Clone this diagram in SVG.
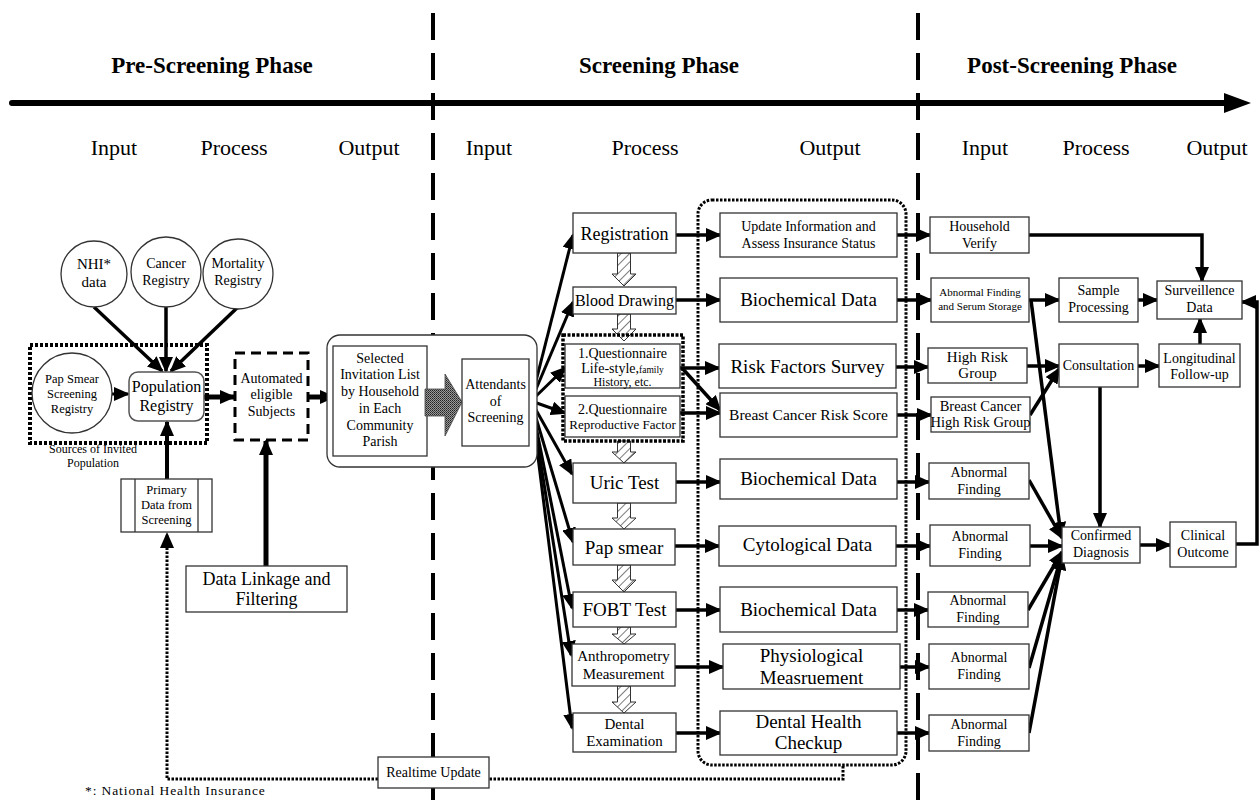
<svg xmlns="http://www.w3.org/2000/svg" width="1259" height="804" viewBox="0 0 1259 804">
<style>
text{font-family:"Liberation Serif","Times New Roman",serif;fill:#000;text-anchor:middle}
.hd{font-size:23px;font-weight:bold}
.col{font-size:22px}
.b{fill:#fff;stroke:#333;stroke-width:1.3}
.c{fill:none;stroke:#000;stroke-width:3.5;marker-end:url(#ah)}
.ct{fill:none;stroke:#000;stroke-width:5;marker-end:url(#ah)}
.dot{fill:none;stroke:#000;stroke-width:3;stroke-dasharray:2.5 1.5}
.phase{stroke:#000;stroke-width:4;stroke-dasharray:27 13}
.hatch{fill:url(#hp);stroke:#333;stroke-width:1}
</style>
<defs>
<marker id="ah" markerWidth="16" markerHeight="14" refX="14" refY="7" orient="auto" markerUnits="userSpaceOnUse"><path d="M0,0 L16,7 L0,14 z" fill="#000"/></marker>
<pattern id="hp" width="6" height="6" patternUnits="userSpaceOnUse" patternTransform="rotate(45)"><rect width="6" height="6" fill="#fff"/><line x1="0" y1="0" x2="0" y2="6" stroke="#222" stroke-width="1.2"/></pattern>
<pattern id="sp" width="2" height="2" patternUnits="userSpaceOnUse"><rect width="2" height="2" fill="#999"/><rect width="1" height="1" fill="#222"/><rect x="1" y="1" width="1" height="1" fill="#444"/></pattern>
</defs>
<rect width="1259" height="804" fill="#fff"/>

<g id="phase-lines">
<line class="phase" x1="433" y1="13" x2="433" y2="804"/>
<line class="phase" x1="918" y1="13" x2="918" y2="804"/>
</g>

<g id="header">
<line x1="12" y1="103" x2="1228" y2="103" stroke="#000" stroke-width="6" stroke-linecap="round"/>
<polygon points="1224,93 1251,103 1224,113" fill="#000"/>
<text class="hd" x="212" y="73">Pre-Screening Phase</text>
<text class="hd" x="659" y="73">Screening Phase</text>
<text class="hd" x="1072" y="73">Post-Screening Phase</text>
<text class="col" x="114" y="155">Input</text>
<text class="col" x="234" y="155">Process</text>
<text class="col" x="369" y="155">Output</text>
<text class="col" x="489" y="155">Input</text>
<text class="col" x="645" y="155">Process</text>
<text class="col" x="830" y="155">Output</text>
<text class="col" x="985" y="155">Input</text>
<text class="col" x="1096" y="155">Process</text>
<text class="col" x="1217" y="155">Output</text>
</g>

<g id="connectors">
<line class="c" x1="94" y1="307" x2="162" y2="371"/>
<line class="c" x1="166" y1="307" x2="166" y2="371"/>
<line class="c" x1="238" y1="307" x2="171" y2="371"/>
<line class="c" x1="112" y1="394" x2="128" y2="394" style="stroke-width:3"/>
<line class="ct" x1="204" y1="397" x2="234" y2="397"/>
<line class="ct" x1="308" y1="397" x2="334" y2="397"/>
<line class="c" x1="167" y1="479" x2="167" y2="422" style="stroke-width:4"/>
<line class="ct" x1="266" y1="566" x2="266" y2="441"/>
<path class="dot" d="M843,766 V779 H489"/>
<path class="dot" d="M378,779 H167 V534" style="marker-end:url(#ah)"/>
<line class="c" x1="531" y1="401" x2="573" y2="235" style="stroke-width:3"/>
<line class="c" x1="531" y1="401" x2="573" y2="302" style="stroke-width:3"/>
<line class="c" x1="531" y1="401" x2="565" y2="368" style="stroke-width:3"/>
<line class="c" x1="531" y1="401" x2="565" y2="413" style="stroke-width:3"/>
<line class="c" x1="531" y1="401" x2="572" y2="474" style="stroke-width:3"/>
<line class="c" x1="531" y1="401" x2="573" y2="542" style="stroke-width:3"/>
<line class="c" x1="531" y1="401" x2="572" y2="608" style="stroke-width:3"/>
<line class="c" x1="531" y1="401" x2="571" y2="655" style="stroke-width:3"/>
<line class="c" x1="531" y1="401" x2="572" y2="728" style="stroke-width:3"/>
<line class="c" x1="676" y1="235" x2="720" y2="235"/>
<line class="c" x1="676" y1="300" x2="720" y2="300"/>
<line class="c" x1="680" y1="368" x2="719" y2="368"/>
<line class="c" x1="682" y1="368" x2="720" y2="410"/>
<line class="c" x1="680" y1="413" x2="720" y2="413"/>
<line class="c" x1="676" y1="482" x2="720" y2="482"/>
<line class="c" x1="675" y1="546" x2="719" y2="546"/>
<line class="c" x1="676" y1="610" x2="720" y2="610"/>
<line class="c" x1="675" y1="667" x2="723" y2="667"/>
<line class="c" x1="676" y1="733" x2="720" y2="733"/>
<line class="c" x1="897" y1="235" x2="930" y2="235"/>
<line class="c" x1="897" y1="300" x2="931" y2="300"/>
<line class="c" x1="896" y1="367" x2="928" y2="367"/>
<line class="c" x1="897" y1="415" x2="931" y2="415"/>
<line class="c" x1="897" y1="482" x2="929" y2="482"/>
<line class="c" x1="896" y1="546" x2="930" y2="546"/>
<line class="c" x1="897" y1="610" x2="928" y2="610"/>
<line class="c" x1="900" y1="667" x2="929" y2="667"/>
<line class="c" x1="897" y1="733" x2="929" y2="733"/>
<path class="c" d="M1029,235 H1202 V281"/>
<line class="c" x1="1029" y1="300" x2="1059" y2="300"/>
<line class="c" x1="1138" y1="300" x2="1157" y2="300"/>
<line class="c" x1="1027" y1="366" x2="1059" y2="366"/>
<line class="c" x1="1030" y1="415" x2="1059" y2="369"/>
<line class="c" x1="1138" y1="366" x2="1159" y2="366"/>
<line class="c" x1="1200" y1="344" x2="1200" y2="319"/>
<line class="c" x1="1100" y1="387" x2="1100" y2="527"/>
<line class="c" x1="1031" y1="300" x2="1061" y2="536"/>
<line class="c" x1="1029" y1="480" x2="1062" y2="538"/>
<line class="c" x1="1030" y1="546" x2="1062" y2="546"/>
<line class="c" x1="1028" y1="610" x2="1062" y2="552"/>
<line class="c" x1="1029" y1="668" x2="1062" y2="554"/>
<line class="c" x1="1029" y1="733" x2="1062" y2="556"/>
<line class="c" x1="1140" y1="545" x2="1170" y2="545"/>
<path class="c" d="M1236,544 H1257 V302 H1242"/>
</g>

<g id="registries">
<g id="n-nhi"><circle class="b" cx="94" cy="274" r="33"/><text x="94" y="269" style="font-size:15px">NHI*</text><text x="94" y="287" style="font-size:15px">data</text></g>
<g id="n-cancer"><circle class="b" cx="166" cy="272" r="35"/><text x="166" y="268" style="font-size:14px">Cancer</text><text x="166" y="285" style="font-size:14px">Registry</text></g>
<g id="n-mortality"><circle class="b" cx="238" cy="274" r="35"/><text x="238" y="268" style="font-size:14px">Mortality</text><text x="238" y="285" style="font-size:14px">Registry</text></g>
</g>

<g id="n-sources">
<rect x="30" y="345" width="177" height="98" fill="none" stroke="#000" stroke-width="4" stroke-dasharray="3 2"/>
<text x="93" y="453" style="font-size:12px">Sources of Invited</text>
<text x="93" y="467" style="font-size:12px">Population</text>
</g>
<g id="n-papreg"><circle class="b" cx="72" cy="393" r="40"/>
<text x="72" y="383" style="font-size:12.5px">Pap Smear</text><text x="72" y="398" style="font-size:12.5px">Screening</text><text x="72" y="413" style="font-size:12.5px">Registry</text></g>
<g id="n-popreg"><rect class="b" x="129" y="372" width="75" height="49" rx="9" style="stroke:#555;stroke-width:1.5"/>
<text x="166.5" y="392" style="font-size:16px">Population</text><text x="166.5" y="411" style="font-size:16px">Registry</text></g>
<g id="n-auto"><rect x="235" y="353" width="73" height="87" fill="#fff" stroke="#000" stroke-width="3" stroke-dasharray="10 6"/>
<text x="271.5" y="383" style="font-size:14px">Automated</text><text x="271.5" y="399" style="font-size:14px">eligible</text><text x="271.5" y="416" style="font-size:14px">Subjects</text></g>
<g id="n-primary"><rect class="b" x="121" y="479" width="91" height="53"/>
<line x1="135" y1="479" x2="135" y2="532" stroke="#333" stroke-width="1.3"/><line x1="198" y1="479" x2="198" y2="532" stroke="#333" stroke-width="1.3"/>
<text x="166.5" y="494" style="font-size:12.5px">Primary</text><text x="166.5" y="509" style="font-size:12.5px">Data from</text><text x="166.5" y="524" style="font-size:12.5px">Screening</text></g>
<g id="n-linkage"><rect class="b" x="186" y="566" width="161" height="46"/>
<text x="266.5" y="585" style="font-size:18px">Data Linkage and</text><text x="266.5" y="605" style="font-size:18px">Filtering</text></g>

<g id="n-invite">
<rect class="b" x="327" y="335" width="210" height="132" rx="13"/>
<rect class="b" x="333" y="346" width="94" height="110"/>
<text x="380" y="363" style="font-size:14px">Selected</text>
<text x="380" y="379" style="font-size:14px">Invitation List</text>
<text x="380" y="396" style="font-size:14px">by Household</text>
<text x="380" y="413" style="font-size:14px">in Each</text>
<text x="380" y="430" style="font-size:14px">Community</text>
<text x="380" y="446" style="font-size:14px">Parish</text>
<path d="M425,389 H445 V374 L462,402 L445,436 V416 H425 Z" fill="url(#sp)" stroke="#444" stroke-width="0.8"/>
<rect class="b" x="462" y="359" width="67" height="87"/>
<text x="495.5" y="389" style="font-size:14px">Attendants</text>
<text x="495.5" y="406" style="font-size:14px">of</text>
<text x="495.5" y="422" style="font-size:14px">Screening</text>
</g>

<g id="hatched-arrows">
<path class="hatch" d="M617.5,253 H630.5 V274 H636 L624,286 L612,274 H617.5 Z"/>
<path class="hatch" d="M617.5,314 H630.5 V329 H636 L624,341 L612,329 H617.5 Z"/>
<path class="hatch" d="M617.5,441 H630.5 V452 H636 L624,463 L612,452 H617.5 Z"/>
<path class="hatch" d="M617.5,503 H630.5 V518 H636 L624,529 L612,518 H617.5 Z"/>
<path class="hatch" d="M617.5,565 H630.5 V580 H636 L624,592 L612,580 H617.5 Z"/>
<path class="hatch" d="M617.5,627 H630.5 V634 H636 L624,644 L612,634 H617.5 Z"/>
<path class="hatch" d="M617.5,686 H630.5 V702 H636 L624,713 L612,702 H617.5 Z"/>
</g>

<g id="n-container"><rect x="698" y="200" width="208" height="565" rx="14" class="dot"/></g>
<g id="n-qgroup"><rect x="563" y="335" width="120" height="106" fill="none" stroke="#000" stroke-width="3.5" stroke-dasharray="3 1.5"/></g>

<g id="n-registration"><rect class="b" x="573" y="213" width="103" height="40"/><text x="624.5" y="240" style="font-size:18px">Registration</text></g>
<g id="n-blood"><rect class="b" x="573" y="287" width="103" height="27"/><text x="624.5" y="306" style="font-size:16px">Blood Drawing</text></g>
<g id="n-q1"><rect class="b" x="565" y="344" width="115" height="44"/>
<text x="622.5" y="358" style="font-size:14px">1.Questionnaire</text>
<text x="622.5" y="373" style="font-size:14px">Life-style,<tspan style="font-size:9.5px">family</tspan></text>
<text x="622.5" y="386" style="font-size:12px">History, etc.</text></g>
<g id="n-q2"><rect class="b" x="565" y="396" width="115" height="41"/>
<text x="622.5" y="414" style="font-size:14px">2.Questionnaire</text>
<text x="622.5" y="429" style="font-size:13px">Reproductive Factor</text></g>
<g id="n-uric"><rect class="b" x="573" y="463" width="103" height="40"/><text x="624.5" y="489" style="font-size:19px">Uric Test</text></g>
<g id="n-pap"><rect class="b" x="573" y="529" width="102" height="36"/><text x="624" y="554" style="font-size:19px">Pap smear</text></g>
<g id="n-fobt"><rect class="b" x="573" y="592" width="103" height="35"/><text x="624.5" y="616" style="font-size:19px">FOBT Test</text></g>
<g id="n-anthro"><rect class="b" x="572" y="644" width="103" height="42"/><text x="623.5" y="661" style="font-size:15px">Anthropometry</text><text x="623.5" y="679" style="font-size:15px">Measurement</text></g>
<g id="n-dental"><rect class="b" x="573" y="713" width="103" height="39"/><text x="624.5" y="729" style="font-size:15px">Dental</text><text x="624.5" y="746" style="font-size:15px">Examination</text></g>

<g id="n-update"><rect class="b" x="720" y="213" width="177" height="44"/><text x="808.5" y="231" style="font-size:14px">Update Information and</text><text x="808.5" y="248" style="font-size:14px">Assess Insurance Status</text></g>
<g id="n-bio1"><rect class="b" x="720" y="278" width="177" height="44"/><text x="808.5" y="306" style="font-size:19px">Biochemical Data</text></g>
<g id="n-risk"><rect class="b" x="719" y="344" width="177" height="44"/><text x="807.5" y="373" style="font-size:19px">Risk Factors Survey</text></g>
<g id="n-bcrisk"><rect class="b" x="720" y="393" width="177" height="44"/><text x="808.5" y="420" style="font-size:15.5px">Breast Cancer Risk Score</text></g>
<g id="n-bio2"><rect class="b" x="720" y="459" width="177" height="40"/><text x="808.5" y="485" style="font-size:19px">Biochemical Data</text></g>
<g id="n-cyto"><rect class="b" x="719" y="526" width="177" height="40"/><text x="807.5" y="551" style="font-size:19px">Cytological Data</text></g>
<g id="n-bio3"><rect class="b" x="720" y="587" width="177" height="45"/><text x="808.5" y="616" style="font-size:19px">Biochemical Data</text></g>
<g id="n-physio"><rect class="b" x="723" y="644" width="177" height="45"/><text x="811.5" y="662" style="font-size:19px">Physiological</text><text x="811.5" y="684" style="font-size:19px">Measruement</text></g>
<g id="n-dentalh"><rect class="b" x="720" y="711" width="177" height="44"/><text x="808.5" y="728" style="font-size:19px">Dental Health</text><text x="808.5" y="749" style="font-size:19px">Checkup</text></g>

<g id="n-realtime"><rect class="b" x="378" y="757" width="111" height="31"/><text x="433.5" y="777" style="font-size:14px">Realtime Update</text></g>
<g id="note"><text x="85" y="795" style="font-size:13.5px;letter-spacing:0.9px;text-anchor:start">*: National Health Insurance</text></g>

<g id="n-household"><rect class="b" x="930" y="217" width="99" height="36"/><text x="979.5" y="231" style="font-size:14px">Household</text><text x="979.5" y="248" style="font-size:14px">Verify</text></g>
<g id="n-abnserum"><rect class="b" x="931" y="278" width="98" height="44"/><text x="980" y="296" style="font-size:11px">Abnormal Finding</text><text x="980" y="310" style="font-size:11px">and Serum Storage</text></g>
<g id="n-highrisk"><rect class="b" x="928" y="348" width="99" height="35"/><text x="977.5" y="362" style="font-size:15px">High Risk</text><text x="977.5" y="378" style="font-size:15px">Group</text></g>
<g id="n-bchrg"><rect class="b" x="931" y="397" width="99" height="35"/><text x="980.5" y="411" style="font-size:14.5px">Breast Cancer</text><text x="980.5" y="427" style="font-size:14.5px">High Risk Group</text></g>
<g id="n-abn1"><rect class="b" x="929" y="463" width="100" height="36"/><text x="979" y="477" style="font-size:14px">Abnormal</text><text x="979" y="494" style="font-size:14px">Finding</text></g>
<g id="n-abn2"><rect class="b" x="930" y="525" width="100" height="41"/><text x="980" y="541" style="font-size:14px">Abnormal</text><text x="980" y="558" style="font-size:14px">Finding</text></g>
<g id="n-abn3"><rect class="b" x="928" y="592" width="100" height="35"/><text x="978" y="605" style="font-size:14px">Abnormal</text><text x="978" y="622" style="font-size:14px">Finding</text></g>
<g id="n-abn4"><rect class="b" x="929" y="644" width="100" height="45"/><text x="979" y="662" style="font-size:14px">Abnormal</text><text x="979" y="679" style="font-size:14px">Finding</text></g>
<g id="n-abn5"><rect class="b" x="929" y="715" width="100" height="36"/><text x="979" y="729" style="font-size:14px">Abnormal</text><text x="979" y="746" style="font-size:14px">Finding</text></g>
<g id="n-sample"><rect class="b" x="1059" y="278" width="79" height="44"/><text x="1098.5" y="295" style="font-size:14px">Sample</text><text x="1098.5" y="312" style="font-size:14px">Processing</text></g>
<g id="n-consult"><rect class="b" x="1059" y="344" width="79" height="43"/><text x="1098.5" y="370" style="font-size:14px">Consultation</text></g>
<g id="n-confirmed"><rect class="b" x="1062" y="527" width="78" height="36"/><text x="1101" y="540" style="font-size:14px">Confirmed</text><text x="1101" y="557" style="font-size:14px">Diagnosis</text></g>
<g id="n-surveil"><rect class="b" x="1157" y="281" width="85" height="38"/><text x="1199.5" y="295" style="font-size:14px">Surveillence</text><text x="1199.5" y="312" style="font-size:14px">Data</text></g>
<g id="n-longit"><rect class="b" x="1159" y="344" width="81" height="43"/><text x="1199.5" y="363" style="font-size:14px">Longitudinal</text><text x="1199.5" y="379" style="font-size:14px">Follow-up</text></g>
<g id="n-clinical"><rect class="b" x="1170" y="522" width="66" height="45"/><text x="1203" y="540" style="font-size:14px">Clinical</text><text x="1203" y="557" style="font-size:14px">Outcome</text></g>
</svg>
